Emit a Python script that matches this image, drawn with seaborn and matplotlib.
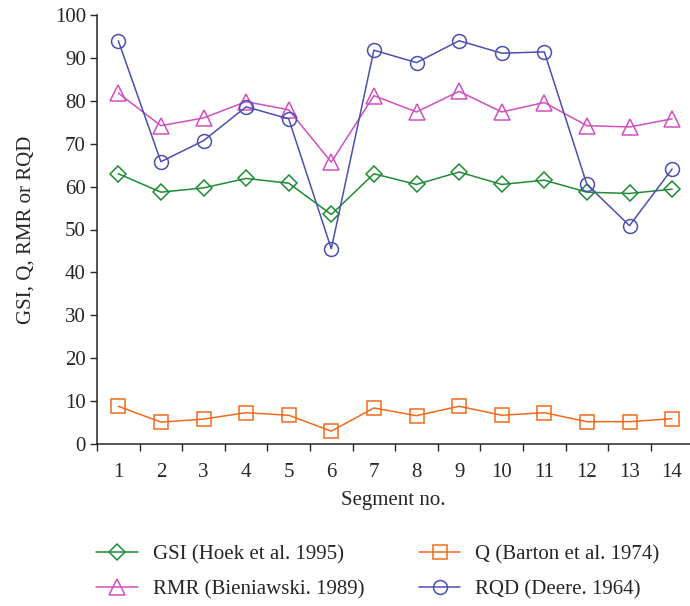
import numpy as np
import pandas as pd
import matplotlib
matplotlib.use("Agg")
import matplotlib.pyplot as plt
import seaborn as sns

# data
segments = list(range(1, 15))
gsi = [63.0, 58.7, 59.7, 61.9, 60.8, 53.5, 63.0, 60.5, 63.4, 60.5, 61.5, 58.7, 58.4, 59.4]
rmr = [81.8, 74.2, 76.0, 79.8, 77.9, 65.7, 81.2, 77.4, 82.2, 77.4, 79.6, 74.2, 73.9, 75.8]
q = [8.8, 5.1, 5.8, 7.3, 6.7, 3.0, 8.4, 6.6, 8.8, 6.7, 7.3, 5.2, 5.2, 5.9]
rqd = [94.0, 65.8, 70.7, 78.6, 75.8, 45.5, 91.8, 88.9, 94.0, 91.1, 91.4, 60.5, 50.9, 64.1]

labels = ["GSI (Hoek et al. 1995)", "RMR (Bieniawski. 1989)",
          "Q (Barton et al. 1974)", "RQD (Deere. 1964)"]
series = [gsi, rmr, q, rqd]
colors = ["#1e8c35", "#d24fbf", "#f26a1b", "#4b4fb0"]
markers = ["D", "^", "s", "o"]
msizes = [8, 11, 9.5, 10]

sns.set_style("ticks")
plt.rcParams["font.family"] = ["Liberation Serif", "DejaVu Serif"]

fig = plt.figure(figsize=(6.9, 6.06), dpi=100)
ax = fig.add_axes([97 / 690, 1 - 444 / 606, (690 - 97) / 690, (444 - 15) / 606])

for vals, lab, c, m, ms in zip(series, labels, colors, markers, msizes):
    df = pd.DataFrame({"Segment": segments, "Value": vals})
    sns.lineplot(data=df, x="Segment", y="Value", ax=ax, color=c, marker=m,
                 markersize=ms, markerfacecolor="none", markeredgecolor=c,
                 markeredgewidth=1.1, linewidth=1.1, label=lab, legend=False)

ax.set_xlim(0.5, 14.42)
ax.set_ylim(0, 100)
ax.set_yticks(np.arange(0, 101, 10))
ax.set_xticks(segments)
ax.set_xticks(np.arange(0.5, 14, 1), minor=True)
ax.tick_params(axis="x", which="major", length=0, labelsize=15, pad=14)
ax.tick_params(axis="x", which="minor", length=5, width=1, direction="out")
ax.tick_params(axis="y", labelsize=15, length=5, width=1, direction="out", pad=3)
ax.set_xlabel("Segment no.", fontsize=15, labelpad=6)
ax.set_ylabel("GSI, Q, RMR or RQD", fontsize=15, labelpad=14)
for s in ["top", "right"]:
    ax.spines[s].set_visible(False)
for s in ["left", "bottom"]:
    ax.spines[s].set_linewidth(1.1)

handles, lbls = ax.get_legend_handles_labels()
fig.legend(handles, lbls, ncol=2, loc="center", bbox_to_anchor=(378 / 690, 1 - 572 / 606),
           frameon=False, fontsize=15, handlelength=2.0, columnspacing=2.6,
           labelspacing=0.73, handletextpad=0.72)

fig.savefig("out.png", dpi=100)
